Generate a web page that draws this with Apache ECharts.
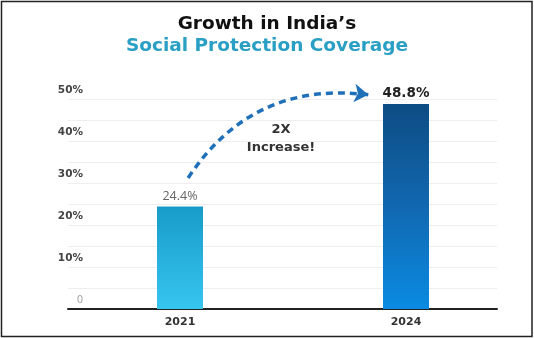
<!DOCTYPE html>
<html>
<head>
<meta charset="utf-8">
<script src="https://cdn.jsdelivr.net/npm/echarts@6/dist/echarts.min.js"></script>
<style>
html,body{margin:0;padding:0;background:#fff;}
#chart{width:534px;height:338px;}
</style>
</head>
<body>
<div id="chart"></div>
<script>
// ---- data ----
var years = ['2021', '2024'];
var coverage = [24.4, 48.8];
var yTicks = [0, 10, 20, 30, 40, 50];
var titleMain = 'Growth in India\u2019s';
var titleSub = 'Social Protection Coverage';
var annotation = ['2X', 'Increase!'];
// arrow endpoints in overlay coordinates: [x (% of plot width), y (%)]
var arrowFrom = [28, 31.2];
var arrowTo = [70, 51];

var FONT = '"Open Sans", "Noto Sans", sans-serif';
var TFONT = '"DejaVu Sans", sans-serif';
var chart = echarts.init(document.getElementById('chart'), null, {renderer: 'canvas'});

var barStyles = [
  {
    color: new echarts.graphic.LinearGradient(0, 0, 0, 1, [
      {offset: 0, color: '#189bc8'}, {offset: 1, color: '#36c5ef'}
    ])
  },
  {
    color: new echarts.graphic.LinearGradient(0, 0, 0, 1, [
      {offset: 0, color: '#0d4c83'}, {offset: 0.5, color: '#1168b0'}, {offset: 1, color: '#0a8be2'}
    ])
  }
];
var barLabels = [
  {color: '#666', fontSize: 12.5, fontWeight: 'normal', fontFamily: FONT},
  {color: '#222', fontSize: 13.5, fontWeight: 'bold', fontFamily: TFONT}
];

var option = {
  backgroundColor: '#fff',
  animation: false,
  title: {
    text: titleMain,
    subtext: titleSub,
    left: 'center',
    top: 13,
    itemGap: 0,
    padding: [0, 0, 0, 7],
    textStyle: {fontFamily: TFONT, fontSize: 18.5, fontWeight: 'bold', color: '#111', lineHeight: 22},
    subtextStyle: {fontFamily: TFONT, fontSize: 18.5, fontWeight: 'bold', color: '#2a9fc4', lineHeight: 22}
  },
  grid: [
    {left: 67, right: 15, top: 99, bottom: 29},
    {left: 68, right: 37, top: 99, bottom: 29}
  ],
  xAxis: [
    {
      gridIndex: 0, type: 'category', data: years,
      axisLine: {show: false}, axisTick: {show: false},
      axisLabel: {margin: 8, fontFamily: TFONT, fontSize: 11, fontWeight: 'bold', color: '#333'}
    },
    {
      gridIndex: 1, type: 'value', min: 0, max: 100,
      axisLine: {show: true, onZero: false, lineStyle: {color: '#222', width: 2}},
      axisTick: {show: false}, axisLabel: {show: false}, splitLine: {show: false}
    }
  ],
  yAxis: [
    {gridIndex: 0, type: 'value', min: 0, max: 50, show: false},
    {
      gridIndex: 1, type: 'value', min: 0, max: 50, interval: 5,
      axisLine: {show: false}, axisTick: {show: false},
      splitLine: {show: true, lineStyle: {color: '#eeeeee', width: 1}},
      axisLabel: {
        margin: -15, align: 'right', verticalAlign: 'bottom', padding: [0, 0, 3, 0],
        fontFamily: TFONT, fontSize: 10.5, fontWeight: 'bold', color: '#444',
        rich: {z: {fontFamily: FONT, fontSize: 10.5, fontWeight: 'normal', color: '#999'}},
        formatter: function (v) {
          if (yTicks.indexOf(v) < 0) return '';
          return v === 0 ? '{z|0}' : v + '%';
        }
      }
    }
  ],
  graphic: [
    {
      type: 'rect', shape: {x: 1.5, y: 1.5, width: 530.5, height: 335}, silent: true,
      style: {fill: 'none', stroke: '#222', lineWidth: 1.5}, z: 100
    },
    {
      type: 'text', x: 281, y: 121, z: 50,
      style: {
        text: annotation.join('\n'), textAlign: 'center', fill: '#333',
        font: 'bold 13px ' + TFONT, lineHeight: 18
      }
    }
  ],
  series: [
    {
      type: 'bar', xAxisIndex: 0, yAxisIndex: 0, barWidth: 46, z: 5,
      data: coverage.map(function (v, i) {
        return {
          value: v,
          itemStyle: barStyles[i],
          label: Object.assign({show: true, position: 'top', distance: 4,
            formatter: function (p) { return p.value + '%'; }}, barLabels[i])
        };
      })
    },
    {
      type: 'lines', coordinateSystem: 'cartesian2d', xAxisIndex: 1, yAxisIndex: 1,
      clip: false, z: 6,
      symbol: ['none', 'arrow'], symbolSize: [0, 14],
      lineStyle: {color: '#1f70b9', width: 3.5, type: [7, 5], curveness: 0.31, opacity: 1},
      data: [{coords: [arrowFrom, arrowTo]}]
    }
  ]
};
chart.setOption(option);
</script>
</body>
</html>
